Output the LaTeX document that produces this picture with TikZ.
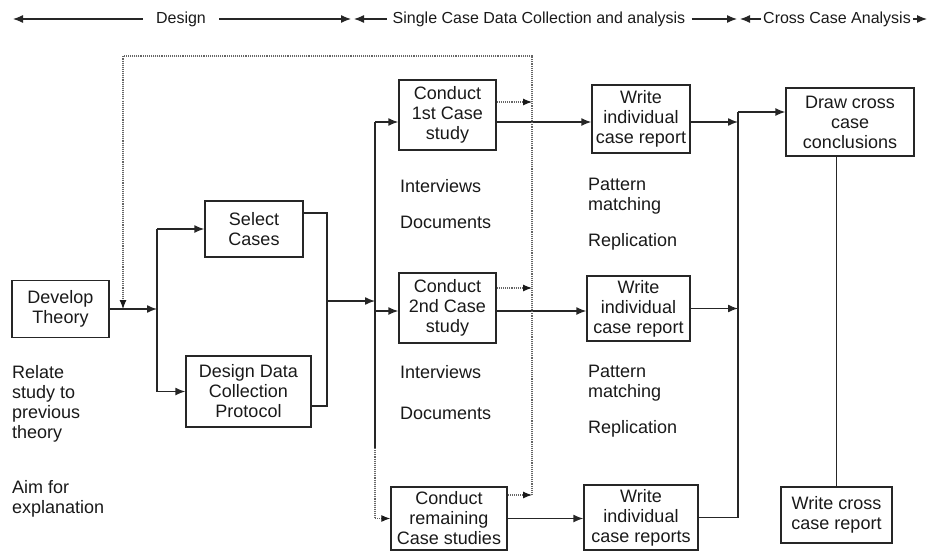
\documentclass[tikz,border=0pt]{standalone}
\usepackage{fontspec}
\setmainfont{Liberation Sans}
\usetikzlibrary{arrows.meta}

\newcommand{\boxfont}{\fontsize{18}{20}\selectfont}
\newcommand{\headfont}{\fontsize{16}{19}\selectfont}

\begin{document}
\begin{tikzpicture}[x=1pt, y=-1pt,
    stage/.style={draw=black!85, line width=1.4pt, align=center, inner sep=0pt, font=\boxfont, text=black!90},
    note/.style={align=left, inner sep=0pt, font=\boxfont, text=black!90},
    phase/.style={inner ysep=0pt, font=\headfont, text=black!90},
    link/.style={draw=black!85, line width=1.4pt},
    arr/.style={link, -{Latex[length=10pt,width=8pt]}},
    feedback/.style={draw=black!60, line width=1.1pt, densely dotted},
    feedarr/.style={feedback, -{Latex[length=9pt,width=7pt,color=black!90]}},
    harr/.style={link, line width=1.2pt, -{Latex[length=10pt,width=8pt]}}]

    \useasboundingbox (0,0) rectangle (928,551);

    \node[phase, inner xsep=13pt] (hdesign) at (181,19) {Design};
    \node[phase, inner xsep=6pt] (hsingle) at (539,19) {Single Case Data Collection and analysis};
    \node[phase, inner xsep=2pt] (hcross) at (837,19) {Cross Case Analysis};
    \coordinate (h0) at (13,19);
    \coordinate (h1) at (351,19);
    \coordinate (h2) at (354,19);
    \coordinate (h3) at (737,19);
    \coordinate (h4) at (740,19);
    \coordinate (h5) at (927,19);

    \node[stage, minimum width=97pt, minimum height=57pt] (theory) at (60.5,309) {Develop\\Theory};
    \node[stage, minimum width=98pt, minimum height=56pt] (select) at (254,229) {Select\\Cases};
    \node[stage, minimum width=125pt, minimum height=71pt] (protocol) at (248.5,391.5) {Design Data\\Collection\\Protocol};
    \node[stage, minimum width=97pt, minimum height=70pt] (conduct1) at (447.5,115) {Conduct\\1st Case\\study};
    \node[stage, minimum width=97pt, minimum height=70pt] (conduct2) at (447.5,308) {Conduct\\2nd Case\\study};
    \node[stage, minimum width=116pt, minimum height=63pt] (conductr) at (449,518.5) {Conduct\\remaining\\Case studies};
    \node[stage, minimum width=98pt, minimum height=68pt] (report1) at (641,119) {Write\\individual\\case report};
    \node[stage, minimum width=103pt, minimum height=65pt] (report2) at (638.5,308.5) {Write\\individual\\case report};
    \node[stage, minimum width=114pt, minimum height=65pt] (reportr) at (641,517.5) {Write\\individual\\case reports};
    \node[stage, minimum width=128pt, minimum height=68pt] (cross) at (850,122) {Draw cross\\case\\conclusions};
    \node[stage, minimum width=111pt, minimum height=56pt] (crossrep) at (836.5,515) {Write cross\\case report};

    \node[note, anchor=north west] (relate) at (12,365) {Relate\\study to\\previous\\theory};
    \node[note, anchor=north west] (aim) at (12,480) {Aim for\\explanation};
    \node[note, anchor=base west] (interviews1) at (400,192) {Interviews};
    \node[note, anchor=base west] (documents1) at (400,228) {Documents};
    \node[note, anchor=base west] (interviews2) at (400,378) {Interviews};
    \node[note, anchor=base west] (documents2) at (400,419) {Documents};
    \node[note, anchor=north west] (pattern1) at (588,178) {Pattern\\matching};
    \node[note, anchor=base west] (replication1) at (588,246) {Replication};
    \node[note, anchor=north west] (pattern2) at (588,365) {Pattern\\matching};
    \node[note, anchor=base west] (replication2) at (588,433) {Replication};

    \coordinate (splita) at (157,309);
    \coordinate (joina) at (327,301);
    \coordinate (splitb) at (375,301);
    \coordinate (gapb) at (375,448);
    \coordinate (joinc) at (738,112);
    \coordinate (loopl) at (123,56);
    \coordinate (loopr) at (532,56);
    \coordinate (c1in) at ([yshift=-7pt]conduct1.west);
    \coordinate (c2in) at ([yshift=-3pt]conduct2.west);
    \coordinate (c1dot) at ([yshift=13pt]conduct1.east);
    \coordinate (c2dot) at ([yshift=20pt]conduct2.east);
    \coordinate (crdot) at ([yshift=23.5pt]conductr.east);

    \draw[harr] (hdesign.west) -- (h0);
    \draw[harr] (hdesign.east) -- (h1);
    \draw[harr] (hsingle.west) -- (h2);
    \draw[harr] (hsingle.east) -- (h3);
    \draw[harr] (hcross.west) -- (h4);
    \draw[harr] (hcross.east) -- (h5);

    \draw[arr] (theory.east) -- (splita);
    \draw[link] (splita |- select.west) -- (splita |- protocol.west);
    \draw[arr] (splita |- select.west) -- (select.west);
    \draw[arr] (splita |- protocol.west) -- (protocol.west);
    \draw[link] ([yshift=16pt]select.east) -| (joina) |- ([yshift=-14.5pt]protocol.east);
    \draw[arr] (joina) -- (splitb);
    \draw[link] (splitb |- c1in) -- (gapb);
    \draw[feedback] (gapb) -- (splitb |- conductr.west);
    \draw[arr] (splitb |- c1in) -- (c1in);
    \draw[arr] (splitb |- c2in) -- (c2in);
    \draw[feedarr] (splitb |- conductr.west) -- (conductr.west);
    \draw[arr] (c1in -| conduct1.east) -- (c1in -| report1.west);
    \draw[arr] (c2in -| conduct2.east) -- (c2in -| report2.west);
    \draw[arr] (conductr.east) -- (conductr.east -| reportr.west);
    \draw[arr] (c1in -| report1.east) -- (c1in -| joinc);
    \draw[arr] (report2.east) -- (report2.east -| joinc);
    \draw[link] (reportr.east) -| (joinc);
    \draw[arr] (joinc) -- (joinc -| cross.west);
    \draw[link] (crossrep.north |- cross.south) -- (crossrep.north);

    % dotted feedback to theory
    \draw[feedarr] (loopr |- crdot) -- (loopr) -- (loopl) -- (loopl |- theory.east);
    \draw[feedarr] (c1dot) -- (c1dot -| loopr);
    \draw[feedarr] (c2dot) -- (c2dot -| loopr);
    \draw[feedarr] (crdot) -- (crdot -| loopr);
\end{tikzpicture}
\end{document}
